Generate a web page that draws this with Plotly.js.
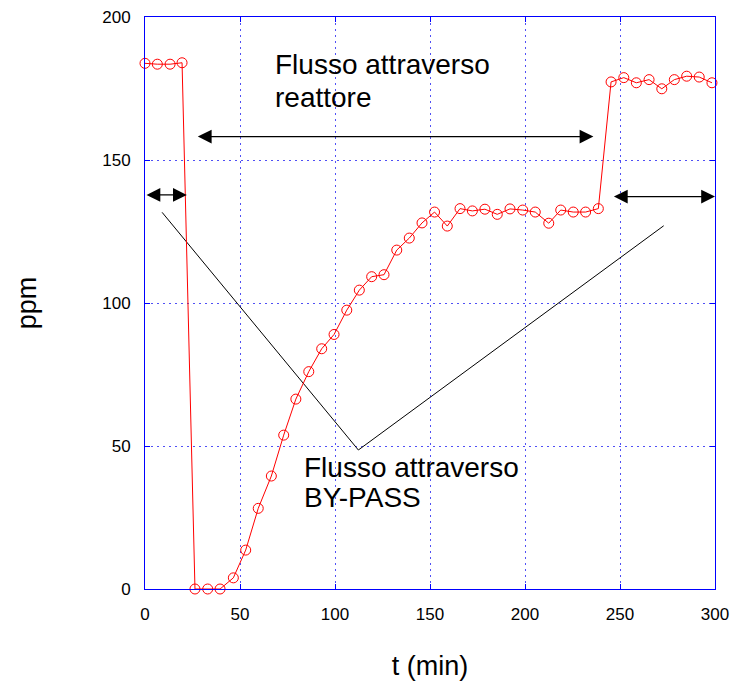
<!DOCTYPE html>
<html>
<head>
<meta charset="utf-8">
<script src="https://cdn.plot.ly/plotly-3.0.1.min.js"></script>
<style>html,body{margin:0;padding:0;background:#fff;}#chart{width:734px;height:690px;}</style>
</head>
<body>
<div id="chart"></div>
<script>
// measured series (t in minutes, concentration in ppm)
const timeMin = [0, 6.5, 13.2, 19.5, 26.3, 33, 39.5, 46.5, 53, 59.6, 66.5, 73, 79.4, 86.2, 93, 99.5,
  106.2, 112.8, 119.3, 125.8, 132.5, 139.1, 145.8, 152.4, 159.1, 165.8, 172.3, 178.9, 185.4, 192.1,
  198.8, 205.4, 212.5, 218.8, 225.4, 231.9, 238.6, 245.3, 252, 258.6, 265.3, 272, 278.6, 285.1, 291.7, 298.4];
const ppm = [183.8, 183.5, 183.5, 184, 0, 0, 0, 3.9, 13.6, 28.2, 39.5, 53.8, 66.4, 76, 84, 89,
  97.5, 104.5, 109.2, 109.9, 118.5, 122.7, 128, 131.8, 126.9, 133, 132.2, 132.8, 131, 132.9,
  132.5, 131.8, 127.9, 132.5, 131.8, 131.8, 133, 177.3, 178.8, 177, 178.1, 174.9, 178.1, 179.3, 179, 177];

// annotation guide: V-shaped pointer lines
const pointerX = [9, 112.3, 273];
const pointerY = [131.7, 48.6, 127];

// double-headed arrows: start t, end t, level
const arrowStart = [0, 27, 246];
const arrowEnd = [22, 236, 300];
const arrowLevel = [137.8, 158.2, 137.2];

// tick labels
const xTicks = [0, 50, 100, 150, 200, 250, 300];
const yTicks = [0, 50, 100, 150, 200];

const FONT = '"Liberation Sans", Arial, sans-serif';
const BLUE = 'rgb(0,0,255)';
const GRID = 'rgb(80,80,245)';

const traces = [
  {
    x: pointerX, y: pointerY, mode: 'lines', type: 'scatter',
    line: {color: 'black', width: 1}, hoverinfo: 'skip', showlegend: false
  },
  {
    x: timeMin, y: ppm, mode: 'lines+markers', type: 'scatter',
    line: {color: 'rgb(255,0,0)', width: 1},
    marker: {symbol: 'circle-open', size: 10, color: 'rgb(255,0,0)', line: {width: 1, color: 'rgb(255,0,0)'}},
    showlegend: false, cliponaxis: false
  }
];

const annotations = [];
for (let i = 0; i < arrowStart.length; i++) {
  annotations.push({
    x: arrowEnd[i], y: arrowLevel[i], ax: arrowStart[i], ay: arrowLevel[i],
    xref: 'x', yref: 'y', axref: 'x', ayref: 'y',
    showarrow: true, arrowside: 'end+start', arrowhead: 2, arrowsize: 2.3, arrowwidth: 1.2,
    arrowcolor: 'black', standoff: 0, startstandoff: 0, text: ''
  });
}
const textFont = {family: FONT, size: 28, color: 'black'};
const labels = [
  {text: 'Flusso attraverso', x: 67.9, y: 183.3},
  {text: 'reattore', x: 67.9, y: 172.0},
  {text: 'Flusso attraverso', x: 83, y: 42.5},
  {text: 'BY-PASS', x: 83, y: 32.0}
];
labels.forEach(l => annotations.push({
  text: l.text, x: l.x, y: l.y, xref: 'x', yref: 'y', xanchor: 'left', yanchor: 'middle',
  showarrow: false, font: textFont, borderpad: 0
}));

const axisCommon = {
  showline: true, linecolor: BLUE, linewidth: 1, mirror: 'ticks',
  showgrid: true, gridcolor: GRID, griddash: '2px,4px', gridwidth: 1,
  ticks: 'inside', ticklen: 5, tickcolor: BLUE, tickwidth: 1,
  zeroline: false, tickfont: {family: FONT, size: 17, color: 'black'},
  ticklabelstandoff: 10
};

const layout = {
  width: 734, height: 690,
  margin: {l: 145, r: 19, t: 17, b: 101, pad: 0},
  paper_bgcolor: 'white', plot_bgcolor: 'white',
  font: {family: FONT, color: 'black'},
  xaxis: Object.assign({}, axisCommon, {
    range: [0, 300], tickvals: xTicks, ticktext: xTicks.map(String),
    title: {text: 't (min)', font: {family: FONT, size: 27, color: 'black'}, standoff: 32}
  }),
  yaxis: Object.assign({}, axisCommon, {
    range: [0, 200], tickvals: yTicks, ticktext: yTicks.map(String),
    title: {text: 'ppm', font: {family: FONT, size: 27, color: 'black'}, standoff: 57}
  }),
  annotations: annotations,
  showlegend: false
};

Plotly.newPlot('chart', traces, layout, {staticPlot: true, displayModeBar: false});
</script>
</body>
</html>
